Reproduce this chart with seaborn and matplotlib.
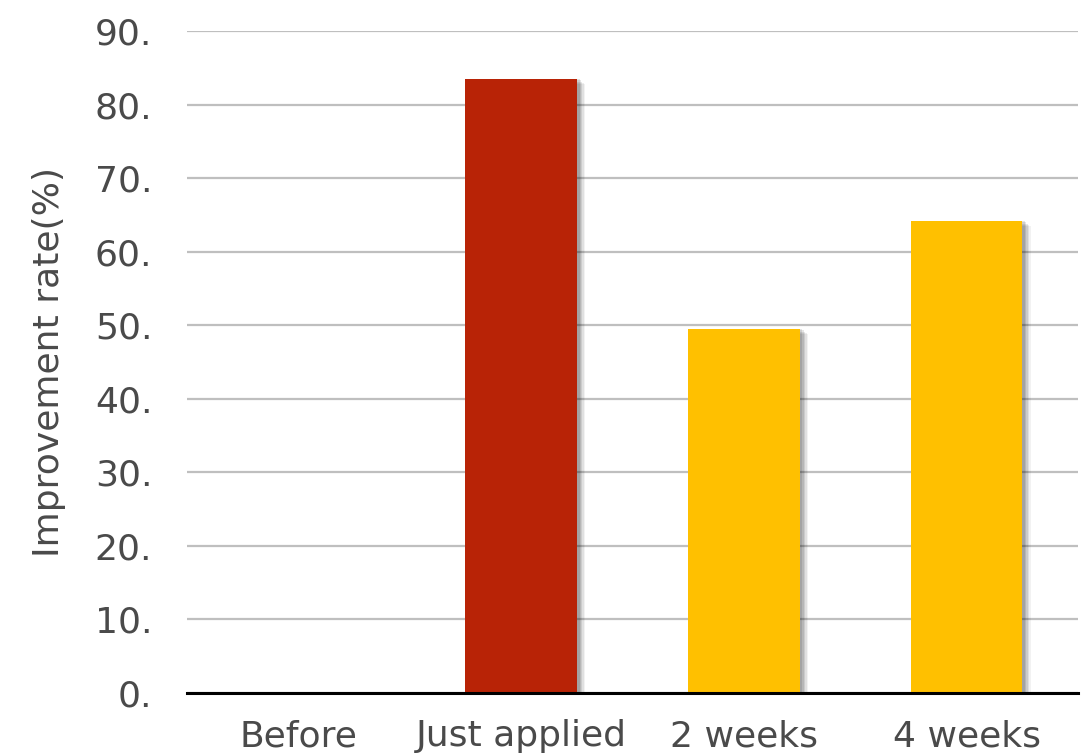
import matplotlib
matplotlib.use("Agg")
import matplotlib.pyplot as plt
import matplotlib.patheffects as pe
import seaborn as sns
import pandas as pd

# Improvement rate by measurement point
categories = ["Before", "Just applied", "2 weeks", "4 weeks"]
rates = [0.0, 83.5, 49.5, 64.2]
bar_colors = ["#B82306", "#B82306", "#FFC000", "#FFC000"]
y_ticks = [0, 10, 20, 30, 40, 50, 60, 70, 80, 90]
y_tick_labels = [f"{v}." for v in y_ticks]

df = pd.DataFrame({"stage": categories, "rate": rates})

sns.set_theme(style="white")
plt.rcParams["font.family"] = ["DejaVu Sans"]

text_color = "#4A4A4A"

fig = plt.figure(figsize=(10.88, 7.55), dpi=100)
ax = fig.add_axes([0.1719, 0.0821, 0.8189, 0.8768])

sns.barplot(data=df, x="stage", y="rate", hue="stage", palette=bar_colors,
            legend=False, width=0.5, saturation=1, ax=ax, zorder=3)

# soft drop shadow built from a few stacked translucent offsets
shadow = [pe.SimplePatchShadow(offset=(dx, -dy), shadow_rgbFace="#000000", alpha=a)
          for dx, dy, a in [(6, 4, 0.05), (5, 3, 0.07), (4, 2, 0.09), (3, 1, 0.1), (2, 0, 0.1)]]
shadow.append(pe.Normal())
for patch in ax.patches:
    patch.set_path_effects(shadow)
    patch.set_edgecolor("none")

ax.set_ylim(0, 90)
ax.set_xlim(-0.5, 3.5)
ax.set_yticks(y_ticks)
ax.set_yticklabels(y_tick_labels)
ax.yaxis.grid(True, color="#BFBFBF", linewidth=1.6, zorder=0)
ax.set_axisbelow(True)

for side in ["top", "right", "left"]:
    ax.spines[side].set_visible(False)
ax.spines["bottom"].set_color("#000000")
ax.spines["bottom"].set_linewidth(2.2)
ax.spines["bottom"].set_zorder(4)

ax.tick_params(axis="both", length=0, labelsize=26, colors=text_color)
ax.tick_params(axis="y", pad=25)
ax.tick_params(axis="x", pad=19)
ax.set_xlabel("")
ax.set_ylabel("Improvement rate(%)", fontsize=26, color=text_color, labelpad=21)

fig.savefig("out.png", dpi=100)
